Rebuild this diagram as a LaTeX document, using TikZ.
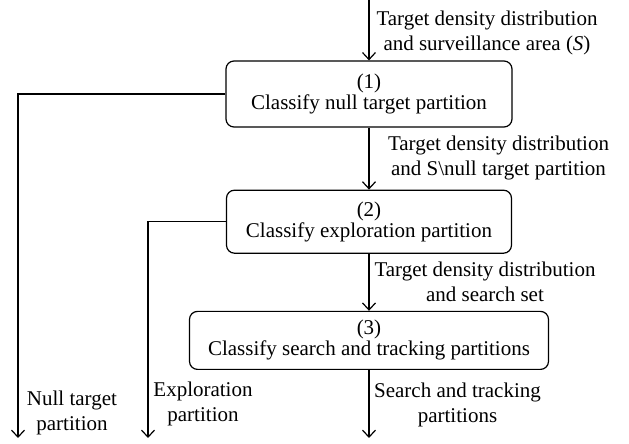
\documentclass[tikz,border=0pt]{standalone}
\usepackage{fontspec}
\setmainfont{Liberation Serif}
\usepackage{tikz}
\usetikzlibrary{arrows.meta, positioning, calc}

\begin{document}
\begin{tikzpicture}[
  x=0.5pt, y=-0.5pt,
  every node/.style={font=\fontsize{10.5}{12.5}\selectfont, align=center, inner sep=1pt},
  stage/.style ={rectangle, draw, line width=0.6pt, rounded corners=4pt,
                 font=\fontsize{10.5}{10.5}\selectfont},
  arr/.style   ={-{Straight Barb[length=3.5pt, width=6.5pt]}, line width=0.6pt},
]
\useasboundingbox (0,0) rectangle (629,444);

% Stages
\node[stage, minimum width=143pt, minimum height=33pt] (cls1) at (369,94)
  {(1)\\Classify null target partition};
\node[stage, below=31pt of cls1, minimum width=142.5pt, minimum height=31.5pt] (cls2)
  {(2)\\Classify exploration partition};
\node[stage, below=28.5pt of cls2, minimum width=179.5pt, minimum height=29pt] (cls3)
  {(3)\\Classify search and tracking partitions};

% Free ends
\coordinate (in)   at (cls1.north |- 0,0);
\coordinate (nul)  at (18,438);
\coordinate (expl) at (148,438);
\coordinate (srch) at (cls3.south |- nul);

% Wires
\draw[arr] (in) -- (cls1.north);
\draw[arr] (cls1.south) -- (cls2.north);
\draw[arr] (cls2.south) -- (cls3.north);
\draw[arr] (cls3.south) -- (srch);
\draw[arr] (cls1.west) -| (nul);
\draw[arr] (cls2.west) -| (expl);

% Labels
\node (in lbl)   at (487,33)    {Target density distribution\\and surveillance area (\textit{S})};
\node (rest lbl) at (498.5,157.5) {Target density distribution\\and S\textbackslash null target partition};
\node (set lbl)  at (485,281.5) {Target density distribution\\and search set};
\node (srch lbl) at (457.5,404.5) {Search and tracking\\partitions};
\node (nul lbl)  at (72,412.5)  {Null target\\partition};
\node (expl lbl) at (203,403.5) {Exploration\\partition};

\end{tikzpicture}
\end{document}
